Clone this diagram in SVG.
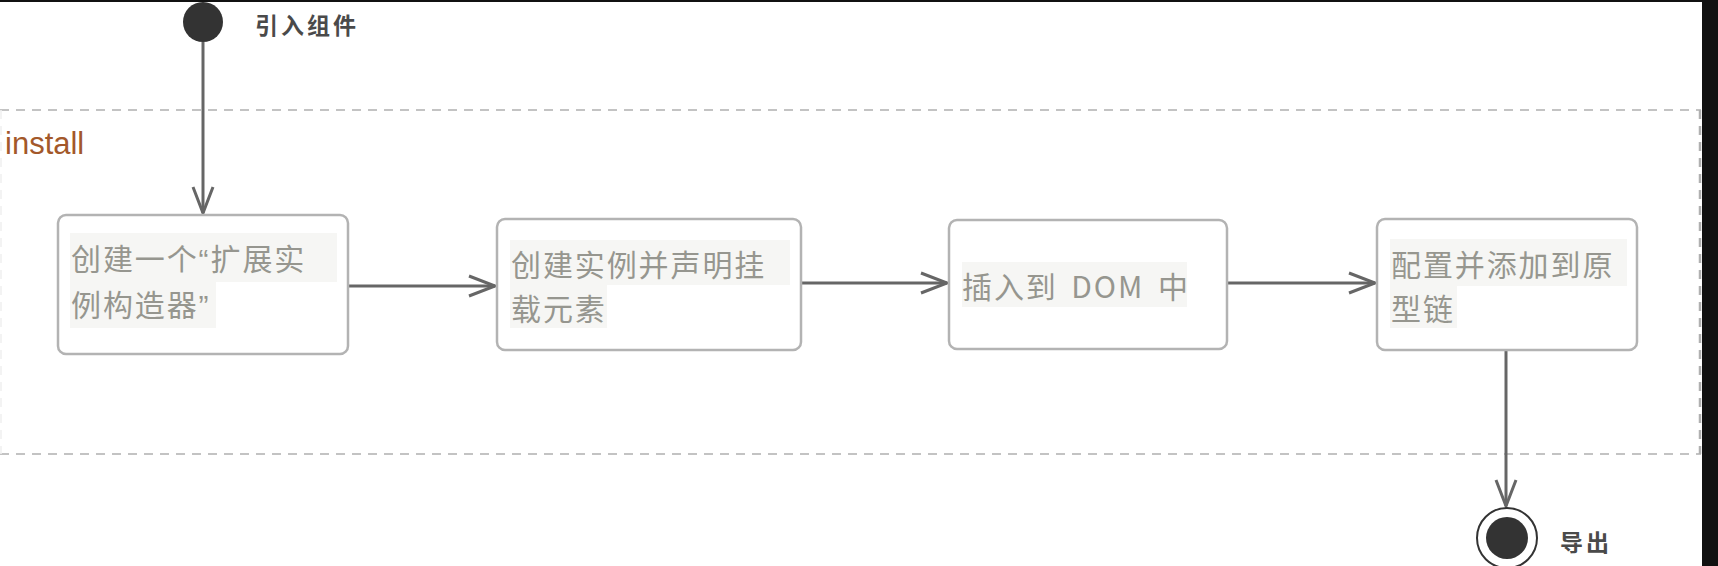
<svg xmlns="http://www.w3.org/2000/svg" width="1718" height="566" viewBox="0 0 1718 566">
<style>
.box{fill:#ffffff;stroke:#b3b3b3;stroke-width:2.5}
.hl{fill:#f6f6f4}
.t{font-family:"Noto Sans CJK SC","Liberation Sans",sans-serif;font-size:30px;fill:#96968f;letter-spacing:1.9px}
.q{font-family:"Liberation Sans",sans-serif}
.lbl{font-family:"Noto Sans CJK SC","Liberation Sans",sans-serif;font-size:23px;font-weight:bold;fill:#4a4a4a;letter-spacing:3px}
.dash{stroke:#b0b0b0;stroke-width:1.6;stroke-dasharray:9 7;fill:none}
.conn{stroke:#666;stroke-width:3;fill:none}
</style>
<defs>
<marker id="arr" markerUnits="userSpaceOnUse" markerWidth="30" markerHeight="24" refX="26" refY="10" orient="auto" overflow="visible">
<path d="M0,0 L26,10 L0,20" fill="none" stroke="#666" stroke-width="3"/>
</marker>
</defs>
<rect x="0" y="0" width="1718" height="566" fill="#ffffff"/>
<g id="swimlane">
<line class="dash" x1="0" y1="110" x2="1701" y2="110"/>
<line class="dash" x1="0" y1="454" x2="1701" y2="454"/>
<line class="dash" x1="1700" y1="110" x2="1700" y2="454" style="stroke-width:2.5"/>
<line class="dash" x1="1" y1="110" x2="1" y2="454" style="stroke:#f0f0f0"/>
<text x="5" y="154" font-family="Liberation Sans, Arial, sans-serif" font-size="31" fill="#a3582a">install</text>
</g>
<g id="connectors">
<line class="conn" x1="203" y1="42" x2="203" y2="213" marker-end="url(#arr)"/>
<line class="conn" x1="348" y1="286" x2="495" y2="286" marker-end="url(#arr)"/>
<line class="conn" x1="801" y1="283" x2="947" y2="283" marker-end="url(#arr)"/>
<line class="conn" x1="1227" y1="283" x2="1375" y2="283" marker-end="url(#arr)"/>
<line class="conn" x1="1506" y1="350" x2="1506" y2="506" marker-end="url(#arr)"/>
</g>
<g id="start">
<circle cx="203" cy="22" r="20" fill="#333"/>
<text class="lbl" x="255" y="34">引入组件</text>
</g>
<g id="node1">
<rect class="box" x="58" y="215" width="290" height="139" rx="8"/>
<rect class="hl" x="70" y="233" width="267" height="49"/>
<rect class="hl" x="70" y="282" width="146" height="46"/>
<text class="t" x="71" y="270">创建一个<tspan class="q">“</tspan>扩展实</text>
<text class="t" x="71" y="316">例构造器<tspan class="q">”</tspan></text>
</g>
<g id="node2">
<rect class="box" x="497" y="219" width="304" height="131" rx="8"/>
<rect class="hl" x="510" y="240" width="280" height="45"/>
<rect class="hl" x="510" y="285" width="97" height="43"/>
<text class="t" x="511" y="276">创建实例并声明挂</text>
<text class="t" x="511" y="320">载元素</text>
</g>
<g id="node3">
<rect class="box" x="949" y="220" width="278" height="129" rx="8"/>
<rect class="hl" x="962" y="262" width="225" height="45"/>
<text class="t" x="962" y="298" word-spacing="5">插入到 DOM 中</text>
</g>
<g id="node4">
<rect class="box" x="1377" y="219" width="260" height="131" rx="8"/>
<rect class="hl" x="1390" y="239" width="237" height="47"/>
<rect class="hl" x="1390" y="286" width="67" height="42"/>
<text class="t" x="1391" y="276">配置并添加到原</text>
<text class="t" x="1391" y="320">型链</text>
</g>
<g id="end">
<circle cx="1507" cy="538" r="30" fill="#ffffff" stroke="#333" stroke-width="2"/>
<circle cx="1507" cy="538" r="21" fill="#333"/>
<text class="lbl" x="1560" y="551">导出</text>
</g>
<g id="frame">
<rect x="0" y="0" width="1718" height="2" fill="#111"/>
<rect x="1702" y="0" width="16" height="566" fill="#111"/>
</g>
</svg>
